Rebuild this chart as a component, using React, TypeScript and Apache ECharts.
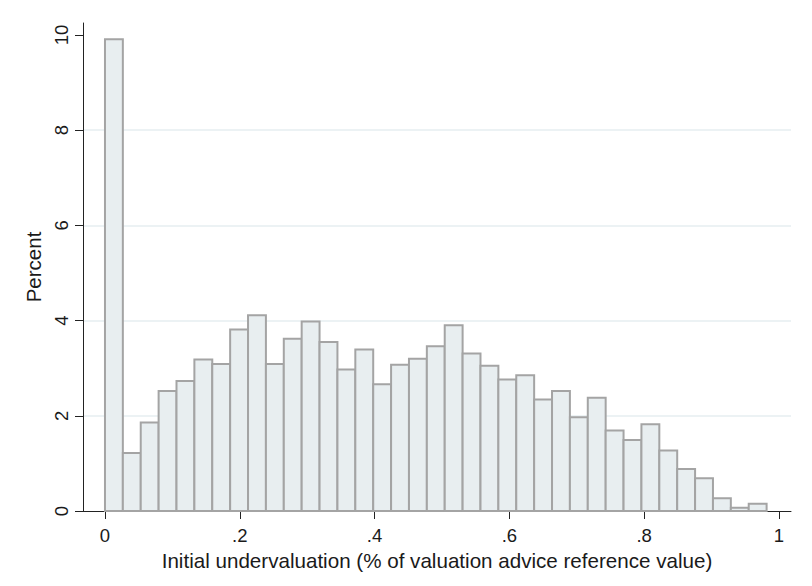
import React, { useEffect, useRef } from "react";
import * as echarts from "echarts";

// Histogram bin heights (percent), 37 equal-width bins starting at 0
const percent = [
  9.91, 1.22, 1.86, 2.52, 2.73, 3.18, 3.09, 3.81, 4.11, 3.09,
  3.62, 3.98, 3.55, 2.97, 3.39, 2.66, 3.07, 3.2, 3.46, 3.9,
  3.31, 3.05, 2.76, 2.85, 2.34, 2.52, 1.97, 2.38, 1.69, 1.49,
  1.82, 1.27, 0.88, 0.69, 0.27, 0.07, 0.15,
];
const binStart = 0;
const binWidth = 0.02653;
const xTicks = [0, 0.2, 0.4, 0.6, 0.8, 1];
const xTickLabels = ["0", ".2", ".4", ".6", ".8", "1"];
const yTicks = [0, 2, 4, 6, 8, 10];
const xTitle = "Initial undervaluation (% of valuation advice reference value)";
const yTitle = "Percent";

const FONT = "Arial, 'Liberation Sans', Helvetica, sans-serif";

export default function App() {
  const ref = useRef<HTMLDivElement>(null);
  useEffect(() => {
    if (!ref.current) return;
    const chart = echarts.init(ref.current, undefined, { renderer: "svg" });
    const data = percent.map((v, i) => [
      binStart + i * binWidth,
      binStart + (i + 1) * binWidth,
      v,
    ]);
    chart.setOption({
      animation: false,
      backgroundColor: "#ffffff",
      textStyle: { fontFamily: FONT },
      grid: { left: 83, right: 21, top: 23, bottom: 75, containLabel: false },
      xAxis: {
        type: "value",
        min: -0.0326,
        max: 1.0178,
        name: xTitle,
        nameLocation: "middle",
        nameGap: 33,
        nameTextStyle: { fontSize: 20.6, color: "#1a1a1a", fontFamily: FONT },
        axisLine: { show: true, onZero: false, lineStyle: { color: "#222", width: 1 } },
        axisTick: {
          show: true,
          length: 8,
          customValues: xTicks,
          lineStyle: { color: "#222", width: 1 },
        },
        axisLabel: {
          customValues: xTicks,
          formatter: (v: number) => {
            const idx = xTicks.findIndex((t) => Math.abs(t - v) < 1e-9);
            return idx >= 0 ? xTickLabels[idx] : "";
          },
          fontSize: 18.5,
          color: "#1a1a1a",
          margin: 15,
          fontFamily: FONT,
        },
        splitLine: { show: false },
      },
      yAxis: {
        type: "value",
        min: 0,
        max: 10.25,
        interval: 2,
        name: yTitle,
        nameLocation: "middle",
        nameGap: 37,
        nameTextStyle: { fontSize: 20.5, color: "#1a1a1a", fontFamily: FONT },
        axisLine: { show: true, onZero: false, lineStyle: { color: "#222", width: 1 } },
        axisTick: {
          show: true,
          length: 8,
          customValues: yTicks,
          lineStyle: { color: "#222", width: 1 },
        },
        axisLabel: {
          customValues: yTicks,
          rotate: 90,
          fontSize: 18.5,
          color: "#1a1a1a",
          margin: 12,
          fontFamily: FONT,
        },
        splitLine: {
          show: true,
          showMinLine: false,
          showMaxLine: false,
          lineStyle: { color: "#e6eef0", width: 1.5 },
        },
      },
      series: [
        {
          type: "custom",
          data,
          encode: { x: [0, 1], y: 2 },
          renderItem: (params: any, api: any) => {
            const s = api.coord([api.value(0), 0]);
            const e = api.coord([api.value(1), api.value(2)]);
            return {
              type: "rect",
              shape: { x: s[0], y: e[1], width: e[0] - s[0], height: s[1] - e[1] },
              style: { fill: "#e8eef0", stroke: "#a4a4a4", lineWidth: 2 },
            };
          },
        },
      ],
    });
    return () => chart.dispose();
  }, []);
  return (
    <div
      ref={ref}
      style={{ position: "fixed", left: 0, top: 0, width: 812, height: 586, background: "#fff" }}
    />
  );
}
